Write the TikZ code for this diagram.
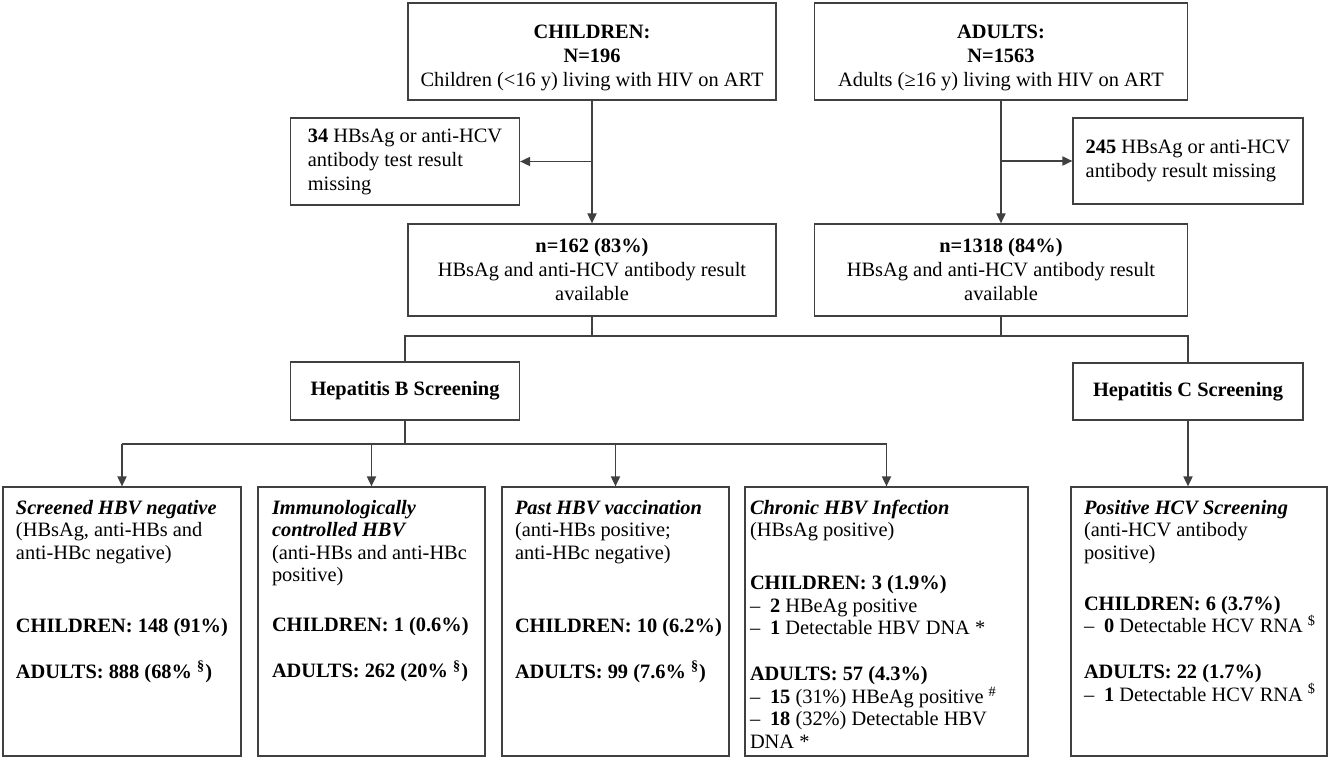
\documentclass[tikz,border=0pt]{standalone}
\usepackage{fontspec}
\setmainfont{Liberation Serif}
\usetikzlibrary{arrows.meta}
\tikzset{
  box/.style={draw=black!75, line width=0.65pt, align=center, inner sep=0pt,
    font=\fontsize{10.2}{12}\selectfont},
  leftbox/.style={box, align=left},
  resbox/.style={draw=black!75, line width=0.65pt, inner xsep=0pt, inner ysep=6.5pt,
    font=\fontsize{10.2}{11.25}\selectfont},
  link/.style={draw=black!75, line width=0.65pt},
  arr/.style={link, -{Triangle[length=5pt,width=4.6pt]}}
}
\newcommand{\restext}[3]{\parbox[c][121.5pt][t]{#1}{\raggedright\hyphenpenalty=10000\leftskip=#2\relax #3}}
\newcommand{\dashitem}[1]{\makebox[10pt][l]{--}#1}
\newcommand{\topstrut}{\rule{0pt}{13pt}}
\begin{document}
\begin{tikzpicture}[x=0.5pt, y=-0.5pt]
        \useasboundingbox (0,0) rectangle (1333,759);
        %%%%%%%%%% Boxes %%%%%%%%%%
        \node[box, minimum width=184pt, minimum height=48.5pt] (children) at (592,51.5)
          {\topstrut\textbf{CHILDREN:}\\\textbf{N=196}\\Children (<16 y) living with HIV on ART};
        \node[box, minimum width=186.5pt, minimum height=48.5pt] (adults) at (1001,51.5)
          {\topstrut\textbf{ADULTS:}\\\textbf{N=1563}\\Adults (≥16 y) living with HIV on ART};
        \node[leftbox, minimum width=114.5pt, minimum height=43.5pt] (miss34) at (405,161.5)
          {\textbf{34} HBsAg or anti-HCV\\antibody test result\\missing};
        \node[leftbox, minimum width=115pt, minimum height=43pt] (miss245) at (1188,161)
          {\textbf{245} HBsAg or anti-HCV\\antibody result missing};
        \node[box, minimum width=184pt, minimum height=46pt] (n162) at (592,270)
          {\textbf{n=162 (83\%)}\\HBsAg and anti-HCV antibody result\\available};
        \node[box, minimum width=186.5pt, minimum height=46pt] (n1318) at (1001,270)
          {\textbf{n=1318 (84\%)}\\HBsAg and anti-HCV antibody result\\available};
        \node[box, minimum width=114.5pt, minimum height=29pt] (hepb) at (405,391)
          {\textbf{Hepatitis B Screening}};
        \node[box, minimum width=115pt, minimum height=28.5pt] (hepc) at (1188,391.5)
          {\textbf{Hepatitis C Screening}};

        %%%%%%%%%% Results %%%%%%%%%%
        \node[resbox] (b1) at (122,621.5) {\restext{119pt}{6.5pt}{%
          \textbf{\textit{Screened HBV negative}}\\(HBsAg, anti-HBs and\\anti-HBc negative)\\[25.25pt]
          \textbf{CHILDREN: 148 (91\%)}\\[11.75pt]
          \textbf{ADULTS: 888 (68\% \textsuperscript{§})}}};
        \node[resbox] (b2) at (371.5,621.5) {\restext{113.5pt}{7pt}{%
          \textbf{\textit{Immunologically}}\\\textbf{\textit{controlled HBV}}\\(anti-HBs and anti-HBc\\positive)\\[13.75pt]
          \textbf{CHILDREN: 1 (0.6\%)}\\[11.75pt]
          \textbf{ADULTS: 262 (20\% \textsuperscript{§})}}};
        \node[resbox] (b3) at (615.5,621.5) {\restext{113.5pt}{6.5pt}{%
          \textbf{\textit{Past HBV vaccination}}\\(anti-HBs positive;\\anti-HBc negative)\\[25.25pt]
          \textbf{CHILDREN: 10 (6.2\%)}\\[11.75pt]
          \textbf{ADULTS: 99 (7.6\% \textsuperscript{§})}}};
        \node[resbox] (b4) at (886.5,621.5) {\restext{141.5pt}{2.5pt}{%
          \textbf{\textit{Chronic HBV Infection}}\\(HBsAg positive)\\[15.25pt]
          \textbf{CHILDREN: 3 (1.9\%)}\\
          \dashitem{\textbf{2} HBeAg positive}\\
          \dashitem{\textbf{1} Detectable HBV DNA *}\\[11.75pt]
          \textbf{ADULTS: 57 (4.3\%)}\\
          \dashitem{\textbf{15} (31\%) HBeAg positive \textsuperscript{\#}}\\
          \dashitem{\textbf{18} (32\%) Detectable HBV}\\DNA *}};
        \node[resbox] (b5) at (1199,621.5) {\restext{128pt}{6.5pt}{%
          \textbf{\textit{Positive HCV Screening}}\\(anti-HCV antibody\\positive)\\[14.25pt]
          \textbf{CHILDREN: 6 (3.7\%)}\\
          \dashitem{\textbf{0} Detectable HCV RNA \textsuperscript{\$}}\\[11.75pt]
          \textbf{ADULTS: 22 (1.7\%)}\\
          \dashitem{\textbf{1} Detectable HCV RNA \textsuperscript{\$}}}};

        %%%%%%%%%% Arrows %%%%%%%%%%
        \coordinate (split) at (0,336);
        \coordinate (hbsplit) at (0,444);
        \draw[arr] (children) -- (n162);
        \draw[arr] (children |- miss34) -- (miss34);
        \draw[arr] (adults) -- (n1318);
        \draw[arr] (adults |- miss245) -- (miss245);
        \draw[link] (n162) -- (n162 |- split);
        \draw[link] (n1318) -- (n1318 |- split);
        \draw[link] (hepb) -- (hepb |- split) -- (hepc |- split) -- (hepc);
        \draw[link] (hepb) -- (hepb |- hbsplit);
        \draw[link] (b1 |- hbsplit) -- (b4 |- hbsplit);
        \foreach \res in {b1,b2,b3,b4}
          \draw[arr] (\res |- hbsplit) -- (\res);
        \draw[arr] (hepc) -- (hepc |- b5.north);
\end{tikzpicture}
\end{document}
